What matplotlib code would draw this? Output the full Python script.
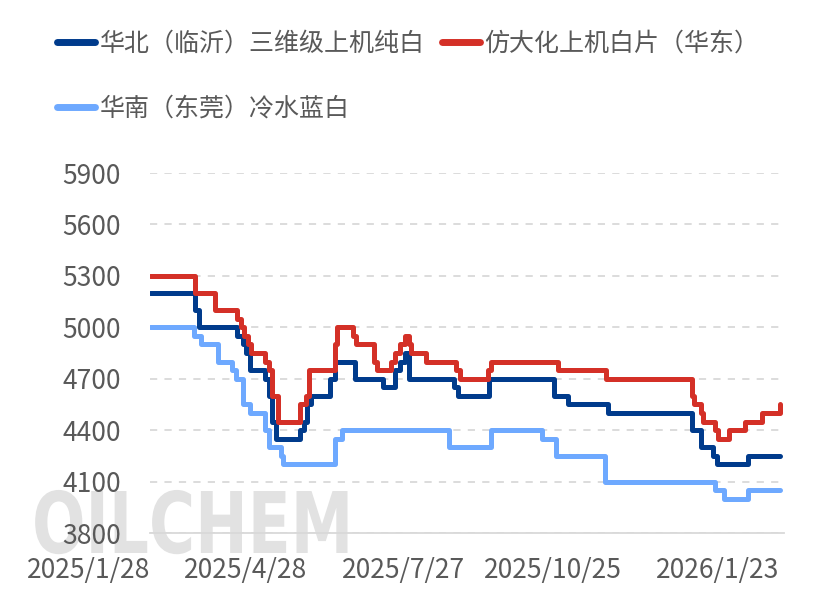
import matplotlib
matplotlib.use("Agg")
import matplotlib.pyplot as plt
import pandas as pd
from matplotlib.textpath import TextPath
from matplotlib.patches import PathPatch
from matplotlib.font_manager import FontProperties
from matplotlib.transforms import Affine2D

plt.rcParams['font.family'] = ['Noto Sans CJK SC', 'DejaVu Sans']

# 华北（临沂）三维级上机纯白 - change points
north_dates = ["2025-01-28", "2025-02-23", "2025-02-25", "2025-03-19", "2025-03-22", "2025-03-24",
               "2025-03-26", "2025-04-04", "2025-04-06", "2025-04-08", "2025-04-10", "2025-04-24",
               "2025-04-26", "2025-04-28", "2025-04-30", "2025-05-11", "2025-05-14", "2025-05-25",
               "2025-06-10", "2025-06-17", "2025-06-20", "2025-06-23", "2025-06-25", "2025-07-21",
               "2025-07-23", "2025-08-10", "2025-09-16", "2025-09-24", "2025-10-17", "2025-12-04",
               "2025-12-09", "2025-12-16", "2025-12-18", "2026-01-05", "2026-01-23"]
north_vals = [5200, 5100, 5000, 4950, 4900, 4850,
              4750, 4700, 4600, 4450, 4350, 4400,
              4450, 4550, 4600, 4700, 4800, 4700,
              4650, 4750, 4800, 4850, 4700, 4650,
              4600, 4700, 4600, 4550, 4500, 4400,
              4300, 4250, 4200, 4250, 4250]

# 仿大化上机白片（华东）
east_dates = ["2025-01-28", "2025-02-23", "2025-03-06", "2025-03-19", "2025-03-21", "2025-03-23",
              "2025-03-25", "2025-03-27", "2025-04-04", "2025-04-06", "2025-04-08", "2025-04-11",
              "2025-04-24", "2025-04-27", "2025-04-29", "2025-05-14", "2025-05-15", "2025-05-24",
              "2025-05-26", "2025-06-05", "2025-06-07", "2025-06-15", "2025-06-17", "2025-06-20",
              "2025-06-23", "2025-06-25", "2025-06-26", "2025-07-05", "2025-07-22", "2025-07-24",
              "2025-08-09", "2025-08-11", "2025-09-18", "2025-10-16", "2025-12-04", "2025-12-05",
              "2025-12-09", "2025-12-10", "2025-12-17", "2025-12-19", "2025-12-25", "2026-01-03",
              "2026-01-13", "2026-01-23"]
east_vals = [5300, 5200, 5100, 5050, 5000, 4950,
             4900, 4850, 4800, 4750, 4600, 4450,
             4550, 4600, 4750, 4900, 5000, 4950,
             4900, 4800, 4750, 4800, 4850, 4900,
             4950, 4900, 4850, 4800, 4750, 4700,
             4750, 4800, 4750, 4700, 4600, 4550,
             4500, 4450, 4400, 4350, 4400, 4450,
             4500, 4550]

# 华南（东莞）冷水蓝白
south_dates = ["2025-01-28", "2025-02-22", "2025-02-26", "2025-03-08", "2025-03-16", "2025-03-18",
               "2025-03-22", "2025-03-26", "2025-04-04", "2025-04-06", "2025-04-13", "2025-04-14",
               "2025-05-14", "2025-05-18", "2025-07-18", "2025-08-11", "2025-09-09", "2025-09-17",
               "2025-10-15", "2025-12-17", "2025-12-22", "2026-01-05", "2026-01-23"]
south_vals = [5000, 4950, 4900, 4800, 4750, 4700,
              4550, 4500, 4400, 4300, 4250, 4200,
              4350, 4400, 4300, 4400, 4350, 4250,
              4100, 4050, 4000, 4050, 4050]

tick_dates = ["2025-01-28", "2025-04-28", "2025-07-27", "2025-10-25", "2026-01-23"]
tick_labels = ["2025/1/28", "2025/4/28", "2025/7/27", "2025/10/25", "2026/1/23"]

fig = plt.figure(figsize=(8.32, 5.91), dpi=100)
ax = fig.add_axes([150 / 832, 1 - 533 / 591, 634 / 832, 360 / 591])
ax.set_facecolor("none")

series = [
    ("华北（临沂）三维级上机纯白", north_dates, north_vals, "#003B8C"),
    ("仿大化上机白片（华东）", east_dates, east_vals, "#D43027"),
    ("华南（东莞）冷水蓝白", south_dates, south_vals, "#6EA9FF"),
]
lines = []
for name, d, v, c in series:
    ln, = ax.plot(pd.to_datetime(d), v, drawstyle="steps-post", color=c, lw=3.6,
                  label=name, solid_capstyle="round", solid_joinstyle="round", zorder=3)
    lines.append(ln)

ax.set_ylim(3800, 5900)
ax.set_yticks(range(3800, 5901, 300))
ax.set_xlim(pd.Timestamp("2025-01-28"), pd.Timestamp("2026-01-25 12:00"))
ax.set_xticks(pd.to_datetime(tick_dates))
ax.set_xticklabels(tick_labels, ha="right")

ax.grid(axis="y", color="#D9D9D9", linestyle=(0, (4, 4)), lw=1.3)
ax.set_axisbelow(True)
for s in ["top", "right", "left"]:
    ax.spines[s].set_visible(False)
ax.spines["bottom"].set_color("#D9D9D9")
ax.spines["bottom"].set_linewidth(1.3)
ax.tick_params(axis="both", length=0, labelsize=19, colors="#595959")
ax.tick_params(axis="y", pad=21)
ax.tick_params(axis="x", pad=17)

# watermark: condensed bold lettering drawn as a path, behind everything
wm = TextPath((0, 0), "OILCHEM", size=85, prop=FontProperties(family="DejaVu Sans", weight="bold"))
wm_tr = Affine2D().scale(0.74, 1.0).translate(32, 591 - 553)
fig.patches.append(PathPatch(wm, transform=wm_tr, facecolor="#E2E2E2", edgecolor="none", zorder=-1))

# order so that rows read: north, east / south
handles = [lines[0], lines[2], lines[1]]
leg = fig.legend(handles=handles, labels=[h.get_label() for h in handles],
                 loc="upper left", bbox_to_anchor=(57 / 832, 1 - 31 / 591), ncol=2,
                 frameon=False, fontsize=18, handlelength=1.5, handletextpad=0.2,
                 columnspacing=0.7, labelspacing=1.55, borderpad=0, borderaxespad=0)
for t in leg.get_texts():
    t.set_color("#595959")
for h in leg.get_lines():
    h.set_linewidth(5)
    h.set_solid_capstyle("round")

fig.savefig("out.png", dpi=100)
